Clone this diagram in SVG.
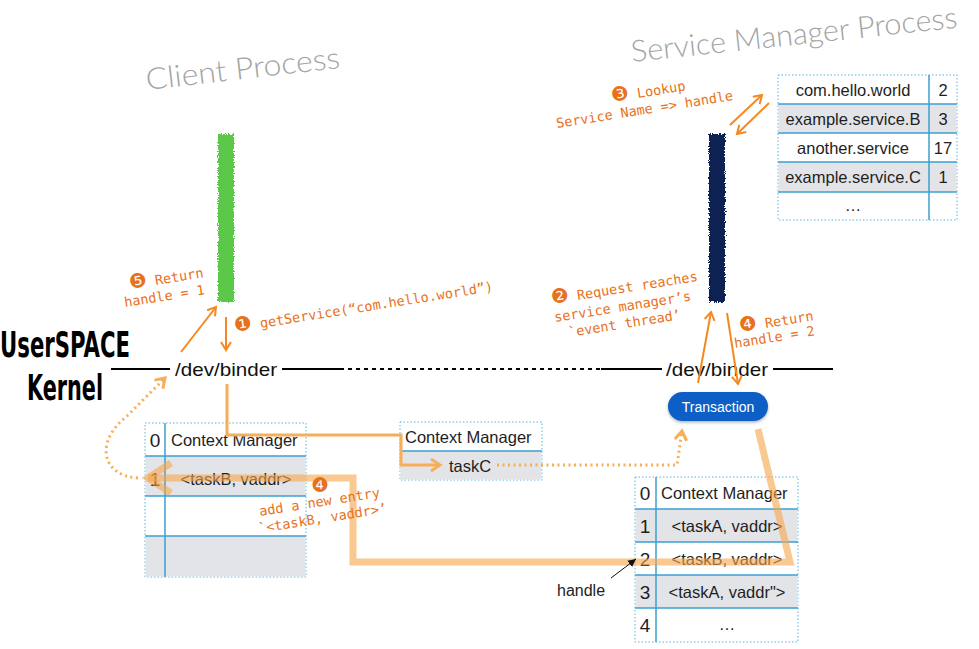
<svg xmlns="http://www.w3.org/2000/svg" width="979" height="649" viewBox="0 0 979 649">
<style>
.title{font-family:"Lato","Open Sans","Liberation Sans",sans-serif;font-weight:300;fill:#a3a5a5;font-size:30px}
.lbl{font-family:"DejaVu Sans Mono","Liberation Mono",monospace;font-size:13.5px;fill:#e8721c}
.cn{font-family:"DejaVu Sans","Noto Sans",sans-serif;font-size:20px}
.cell{font-family:"Liberation Sans","Noto Sans",sans-serif;font-size:16.5px;fill:#1e1e1e}
.num{font-family:"Liberation Sans","Noto Sans",sans-serif;font-size:19px;fill:#1e1e1e}
.mid{text-anchor:middle}
.big{font-family:"DejaVu Sans","Liberation Sans",sans-serif;font-weight:bold;font-stretch:condensed;fill:#000}
.dev{font-family:"Liberation Sans","Noto Sans",sans-serif;font-size:19px;fill:#111}
.tblb{fill:#fff;stroke:#5ab4dc;stroke-width:1;stroke-dasharray:1.5 2}
.shade{fill:#e3e4e8}
.rl{stroke:#3d9fd2;stroke-width:1.5}
.oarr{fill:none;stroke:#f5891f;stroke-width:2}
.lo{fill:none;stroke:#f7ae58;stroke-width:3}
.dot{fill:none;stroke:#f7ae58;stroke-width:3;stroke-dasharray:2 3.5}
.thick{fill:none;stroke:#f6a54a;stroke-opacity:0.6;stroke-width:7}
</style>
<defs>
<marker id="ah" markerUnits="userSpaceOnUse" markerWidth="14" markerHeight="14" refX="10" refY="6" orient="auto">
<path d="M2,1 L10,6 L2,11" fill="none" stroke="#f5891f" stroke-width="2"/>
</marker>
<marker id="ahl" markerUnits="userSpaceOnUse" markerWidth="16" markerHeight="16" refX="11" refY="7" orient="auto">
<path d="M2,1 L11,7 L2,13" fill="none" stroke="#f7ae58" stroke-width="3"/>
</marker>
<marker id="ahk" markerUnits="userSpaceOnUse" markerWidth="10" markerHeight="10" refX="8" refY="4" orient="auto">
<path d="M0,0 L8,4 L0,8 Z" fill="#111"/>
</marker>
<marker id="aht" markerUnits="userSpaceOnUse" markerWidth="34" markerHeight="40" refX="27" refY="20" orient="auto">
<path d="M4,5 L27,20 L4,35" fill="none" stroke="#f6a54a" stroke-opacity="0.6" stroke-width="7"/>
</marker>
<filter id="rough" x="-50%" y="-10%" width="200%" height="120%">
<feTurbulence type="fractalNoise" baseFrequency="0.8" numOctaves="2" seed="3" result="n"/>
<feDisplacementMap in="SourceGraphic" in2="n" scale="5" xChannelSelector="R" yChannelSelector="G"/>
</filter>
<filter id="sh" x="-20%" y="-30%" width="140%" height="170%">
<feDropShadow dx="0" dy="1.5" stdDeviation="1.5" flood-color="#000" flood-opacity="0.3"/>
</filter>
</defs>

<g id="titles">
<text class="title" x="147" y="90" textLength="195" lengthAdjust="spacingAndGlyphs" transform="rotate(-6.5 147 90)">Client Process</text>
<text class="title" x="632" y="62" font-size="27" textLength="328" lengthAdjust="spacingAndGlyphs" transform="rotate(-6 632 62)">Service Manager Process</text>
</g>

<g id="layer-labels">
<text class="big" x="0" y="357" font-size="36" textLength="130" lengthAdjust="spacingAndGlyphs">UserSPACE</text>
<text class="big" x="27" y="400" font-size="36" textLength="76" lengthAdjust="spacingAndGlyphs">Kernel</text>
</g>

<g id="client-bar"><rect x="218" y="134" width="16" height="168" fill="#5cc84a" filter="url(#rough)"/></g>
<g id="service-bar"><rect x="709" y="134" width="16" height="168" fill="#0f2452" filter="url(#rough)"/></g>

<g id="boundary">
<line x1="111" y1="369" x2="170" y2="369" stroke="#000" stroke-width="2"/>
<text class="dev" x="175" y="376" textLength="102" lengthAdjust="spacingAndGlyphs">/dev/binder</text>
<line x1="282" y1="369" x2="344" y2="369" stroke="#000" stroke-width="2"/>
<line x1="348" y1="369" x2="601" y2="369" stroke="#000" stroke-width="2" stroke-dasharray="4 4"/>
<line x1="601" y1="369" x2="662" y2="369" stroke="#000" stroke-width="2"/>
<text class="dev" x="666" y="376" textLength="102" lengthAdjust="spacingAndGlyphs">/dev/binder</text>
<line x1="773" y1="369" x2="833" y2="369" stroke="#000" stroke-width="2"/>
</g>

<g id="service-table">
<rect class="tblb" x="778" y="75" width="179" height="145"/>
<rect class="shade" x="778.5" y="104" width="178" height="29"/>
<rect class="shade" x="778.5" y="162" width="178" height="30"/>
<line class="rl" x1="778" y1="104" x2="957" y2="104"/>
<line class="rl" x1="778" y1="133" x2="957" y2="133"/>
<line class="rl" x1="778" y1="162" x2="957" y2="162"/>
<line class="rl" x1="778" y1="192" x2="957" y2="192"/>
<line class="rl" x1="929" y1="75" x2="929" y2="220"/>
<text class="cell mid" x="853" y="96">com.hello.world</text>
<text class="cell mid" x="853" y="125">example.service.B</text>
<text class="cell mid" x="853" y="154">another.service</text>
<text class="cell mid" x="853" y="183">example.service.C</text>
<text class="cell mid" x="853" y="211">…</text>
<text class="cell mid" x="943" y="96">2</text>
<text class="cell mid" x="943" y="125">3</text>
<text class="cell mid" x="943" y="154">17</text>
<text class="cell mid" x="943" y="183">1</text>
</g>

<g id="client-table">
<rect class="tblb" x="145" y="423" width="161" height="154"/>
<rect class="shade" x="145.5" y="456" width="160" height="40"/>
<rect class="shade" x="145.5" y="536" width="160" height="40.5"/>
<line class="rl" x1="145" y1="456" x2="306" y2="456"/>
<line class="rl" x1="145" y1="496" x2="306" y2="496"/>
<line class="rl" x1="145" y1="536" x2="306" y2="536"/>
<line class="rl" x1="165" y1="423" x2="165" y2="577"/>
<text class="num mid" x="155" y="447">0</text>
<text class="cell" x="171" y="446">Context Manager</text>
<text class="num mid" x="155" y="486">1</text>
<text class="cell mid" x="236" y="485">&lt;taskB, vaddr&gt;</text>
</g>

<g id="mid-table">
<rect class="tblb" x="400" y="422" width="142" height="58"/>
<rect class="shade" x="400.5" y="451" width="141" height="28.5"/>
<line class="rl" x1="400" y1="451" x2="542" y2="451"/>
<text class="cell" x="405" y="443" font-size="16">Context Manager</text>
<text class="cell mid" x="470" y="472">taskC</text>
</g>

<g id="binder-table">
<rect class="tblb" x="635" y="477" width="163" height="165"/>
<rect class="shade" x="635.5" y="509" width="162" height="33"/>
<rect class="shade" x="635.5" y="575" width="162" height="33"/>
<line class="rl" x1="635" y1="509" x2="798" y2="509"/>
<line class="rl" x1="635" y1="542" x2="798" y2="542"/>
<line class="rl" x1="635" y1="575" x2="798" y2="575"/>
<line class="rl" x1="635" y1="608" x2="798" y2="608"/>
<line class="rl" x1="656" y1="477" x2="656" y2="642"/>
<text class="num mid" x="645" y="500">0</text>
<text class="cell" x="661" y="499">Context Manager</text>
<text class="num mid" x="645" y="533">1</text>
<text class="cell mid" x="727" y="532">&lt;taskA, vaddr&gt;</text>
<text class="num mid" x="645" y="566">2</text>
<text class="cell mid" x="727" y="565">&lt;taskB, vaddr&gt;</text>
<text class="num mid" x="645" y="599">3</text>
<text class="cell mid" x="727" y="598">&lt;taskA, vaddr"&gt;</text>
<text class="num mid" x="645" y="632">4</text>
<text class="cell mid" x="727" y="630">…</text>
</g>

<g id="transaction">
<rect x="668" y="392" width="100" height="29" rx="14.5" fill="#0b5fc5" filter="url(#sh)"/>
<text x="718" y="412" text-anchor="middle" font-family="Liberation Sans, sans-serif" font-size="14" fill="#fff">Transaction</text>
</g>

<g id="connectors">
<line class="oarr" x1="226" y1="317" x2="226" y2="350" marker-end="url(#ah)"/>
<line class="oarr" x1="181" y1="352" x2="216" y2="307" marker-end="url(#ah)"/>
<line class="oarr" x1="698" y1="383" x2="711" y2="312" marker-end="url(#ah)"/>
<line class="oarr" x1="727" y1="313" x2="738" y2="384" marker-end="url(#ah)"/>
<line class="oarr" x1="730" y1="125" x2="762" y2="95" marker-end="url(#ah)"/>
<line class="oarr" x1="769" y1="103" x2="737" y2="134" marker-end="url(#ah)"/>
<path class="lo" d="M227,384 V435 H401 V465 H440" marker-end="url(#ahl)"/>
<path class="dot" d="M497,465 H677 L682,431" marker-end="url(#ahl)"/>
<path class="dot" d="M138,478 C102,476 94,442 127,416 L165,378" marker-end="url(#ahl)"/>
<path class="thick" d="M758,429 L790,562 H353 V478 H148" marker-end="url(#aht)"/>
<line x1="611" y1="578" x2="636" y2="559" stroke="#111" stroke-width="1" marker-end="url(#ahk)"/>
</g>

<g id="notes">
<text class="lbl" x="612" y="102" transform="rotate(-9 612 102)"><tspan class="cn">❸</tspan> Lookup</text>
<text class="lbl" x="557" y="128" transform="rotate(-9 557 128)">Service Name =&gt; handle</text>
<text class="lbl" x="130" y="289" transform="rotate(-9 130 289)"><tspan class="cn">❺</tspan> Return</text>
<text class="lbl" x="125" y="307" transform="rotate(-9 125 307)">handle = 1</text>
<text class="lbl" x="235" y="332" font-size="14" transform="rotate(-9 235 332)"><tspan class="cn">❶</tspan> getService(“com.hello.world”)</text>
<text class="lbl" x="552" y="304" transform="rotate(-9 552 304)"><tspan class="cn">❷</tspan> Request reaches</text>
<text class="lbl" x="555" y="322" transform="rotate(-9 555 322)">service manager’s</text>
<text class="lbl" x="569" y="337" transform="rotate(-9 569 337)">`event thread’</text>
<text class="lbl" x="740" y="332" transform="rotate(-9 740 332)"><tspan class="cn">❹</tspan> Return</text>
<text class="lbl" x="735" y="348" transform="rotate(-9 735 348)">handle = 2</text>
<text class="lbl" x="311" y="492"><tspan class="cn">❹</tspan></text>
<text class="lbl" x="260" y="516" transform="rotate(-9 260 516)">add a new entry</text>
<text class="lbl" x="259" y="533" transform="rotate(-9 259 533)">`&lt;taskB, vaddr&gt;’</text>
<text x="557" y="596" font-family="Liberation Sans, sans-serif" font-size="16" fill="#222">handle</text>
</g>
</svg>
